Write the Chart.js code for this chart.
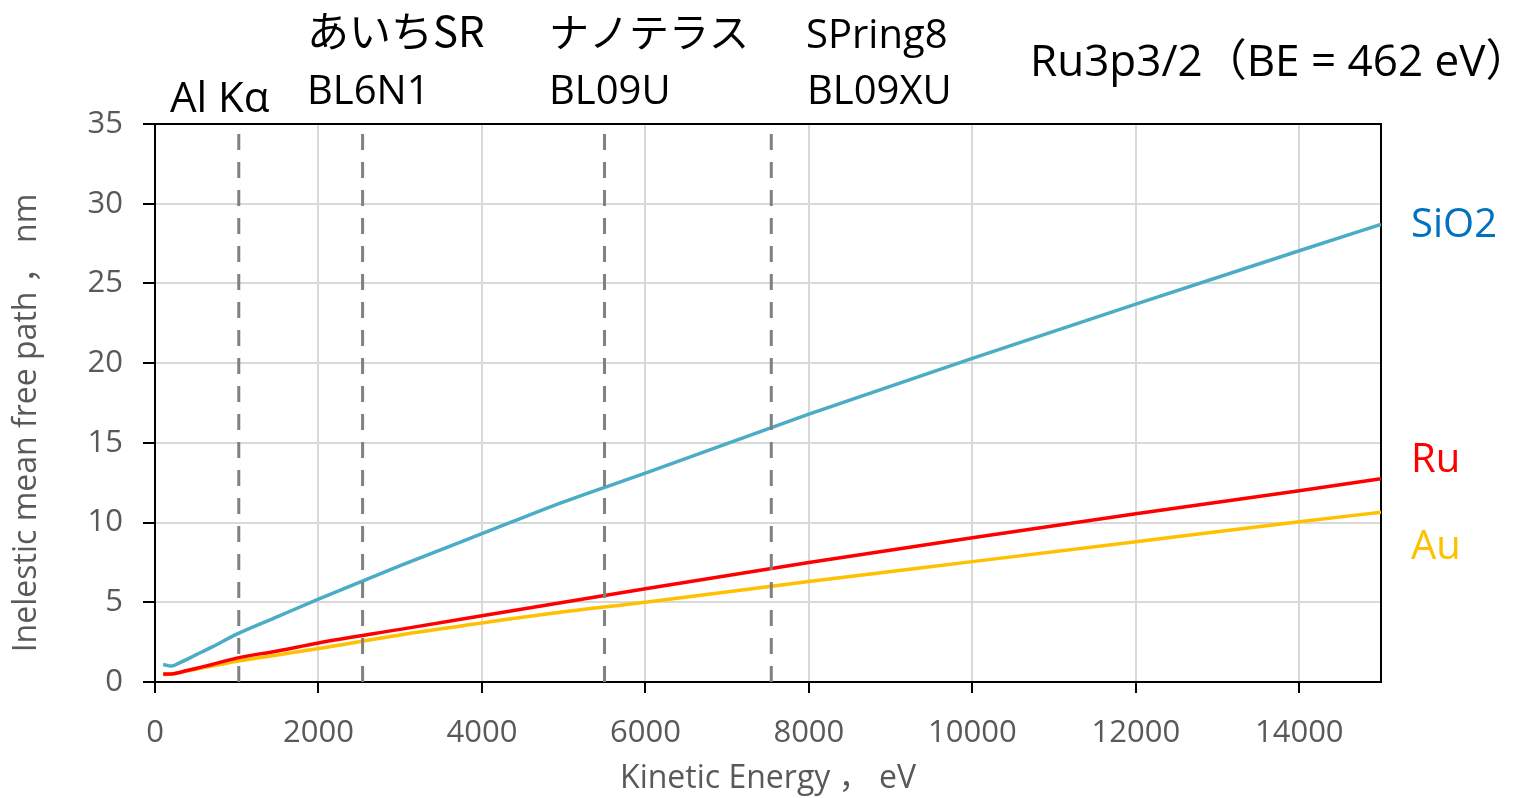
<!DOCTYPE html>
<html>
<head>
<meta charset="utf-8">
<script src="https://cdn.jsdelivr.net/npm/chart.js@4"></script>
<style>
  html, body { margin: 0; padding: 0; background: #fff; }
  #wrap { width: 1533px; height: 798px; }
</style>
</head>
<body>
<div id="wrap"><canvas id="imfp"></canvas></div>
<script>
// Kinetic energy (eV) and IMFP (nm)
const energies = [100, 200, 300, 500, 700, 1000, 1500, 2000, 3000, 4000, 5000, 6000, 8000, 10000, 12000, 14000, 15000];
const sio2Imfp = [1.1, 1.0, 1.2, 1.7, 2.2, 3.0, 4.1, 5.2, 7.3, 9.3, 11.3, 13.1, 16.8, 20.3, 23.7, 27.05, 28.7];
const ruImfp   = [0.5, 0.5, 0.6, 0.85, 1.1, 1.5, 1.95, 2.45, 3.3, 4.15, 5.0, 5.85, 7.5, 9.05, 10.55, 12.0, 12.75];
const auImfp   = [0.45, 0.5, 0.6, 0.8, 1.0, 1.3, 1.7, 2.1, 2.95, 3.7, 4.4, 5.0, 6.3, 7.55, 8.8, 10.05, 10.65];

// Beamline kinetic energies (photon energy - 462 eV)
const beamlineEnergies = [1025, 2540, 5500, 7540];

const xTicks = [0, 2000, 4000, 6000, 8000, 10000, 12000, 14000];

// Latin first, CJK font picks up the full-width characters
const LATIN = '"Open Sans", "Noto Sans CJK JP", sans-serif';
const JP = '"Noto Sans CJK JP", "Open Sans", sans-serif';
const GREY = '#595959';

function toPoints(ys) {
  return energies.map((x, i) => ({ x: x, y: ys[i] }));
}

function curve(label, ys, color) {
  return {
    label: label,
    data: toPoints(ys),
    borderColor: color,
    borderWidth: 3.5,
    pointRadius: 0,
    cubicInterpolationMode: 'monotone',
    fill: false
  };
}

function marker(x) {
  return {
    label: 'line ' + x,
    data: [{ x: x, y: 0 }, { x: x, y: 35 }],
    borderColor: '#808080',
    borderWidth: 3,
    borderDash: [16, 12],
    pointRadius: 0,
    fill: false
  };
}

// Text labels, y title and plot frame
const annotations = {
  id: 'annotations',
  beforeDatasetsDraw(chart) {
    const { ctx, chartArea } = chart;
    ctx.save();
    ctx.strokeStyle = '#000';
    ctx.lineWidth = 2;
    ctx.strokeRect(chartArea.left, chartArea.top, chartArea.right - chartArea.left, chartArea.bottom - chartArea.top);
    ctx.restore();
  },
  afterDraw(chart) {
    const ctx = chart.ctx;
    ctx.save();
    ctx.textBaseline = 'alphabetic';
    ctx.textAlign = 'left';

    ctx.fillStyle = '#000';
    ctx.font = '42px ' + LATIN;
    ctx.fillText('Al Kα', 170, 112);

    ctx.font = '42px ' + JP;
    ctx.fillText('あいちSR', 307, 47);
    ctx.font = '40px ' + JP;
    ctx.fillText('ナノテラス', 549, 47);

    ctx.font = '40px ' + LATIN;
    ctx.fillText('BL6N1', 307, 104);
    ctx.fillText('BL09U', 549, 104);
    ctx.fillText('SPring8', 806, 48);
    ctx.fillText('BL09XU', 807, 104);

    ctx.font = '44px ' + LATIN;
    ctx.fillText('Ru3p3/2（BE = 462 eV）', 1030, 76);

    ctx.font = '40px ' + LATIN;
    ctx.fillStyle = '#0070C0';
    ctx.fillText('SiO2', 1411, 237);
    ctx.fillStyle = '#FF0000';
    ctx.fillText('Ru', 1411, 472);
    ctx.fillStyle = '#FFC000';
    ctx.fillText('Au', 1411, 559);

    // y axis title
    ctx.translate(27, 423);
    ctx.rotate(-Math.PI / 2);
    ctx.textAlign = 'center';
    ctx.textBaseline = 'middle';
    ctx.fillStyle = GREY;
    ctx.font = '32px ' + LATIN;
    ctx.fillText('Inelestic mean free path ， nm', 0, 0);
    ctx.restore();
  }
};

const ctx = document.getElementById('imfp').getContext('2d');
new Chart(ctx, {
  type: 'line',
  data: {
    datasets: [
      ...beamlineEnergies.map(marker),
      curve('SiO2', sio2Imfp, '#4BACC6'),
      curve('Ru', ruImfp, '#FF0000'),
      curve('Au', auImfp, '#FFC000')
    ]
  },
  options: {
    responsive: true,
    maintainAspectRatio: false,
    animation: false,
    layout: { padding: { top: 124, right: 152, left: 0, bottom: 0 } },
    plugins: {
      legend: { display: false },
      tooltip: { enabled: false }
    },
    scales: {
      x: {
        type: 'linear',
        min: 0,
        max: 15000,
        afterFit: s => { s.height = 116; },
        afterBuildTicks: s => { s.ticks = xTicks.map(v => ({ value: v })); },
        grid: { color: '#d9d9d9', lineWidth: 2, tickColor: '#000', tickLength: 11, tickWidth: 2 },
        border: { color: '#000', width: 2 },
        ticks: {
          color: GREY,
          font: { family: LATIN, size: 31 },
          padding: 22,
          maxRotation: 0,
          callback: v => String(v)
        },
        title: {
          display: true,
          text: 'Kinetic Energy ， eV',
          color: GREY,
          font: { family: LATIN, size: 32 },
          padding: { top: 0, bottom: 0 }
        }
      },
      y: {
        min: 0,
        max: 35,
        afterFit: s => { s.width = 155; },
        grid: { color: '#d9d9d9', lineWidth: 2, tickColor: '#000', tickLength: 12, tickWidth: 2 },
        border: { color: '#000', width: 2 },
        ticks: { stepSize: 5, color: GREY, font: { family: LATIN, size: 31 }, padding: 20 }
      }
    }
  },
  plugins: [annotations]
});
</script>
</body>
</html>
